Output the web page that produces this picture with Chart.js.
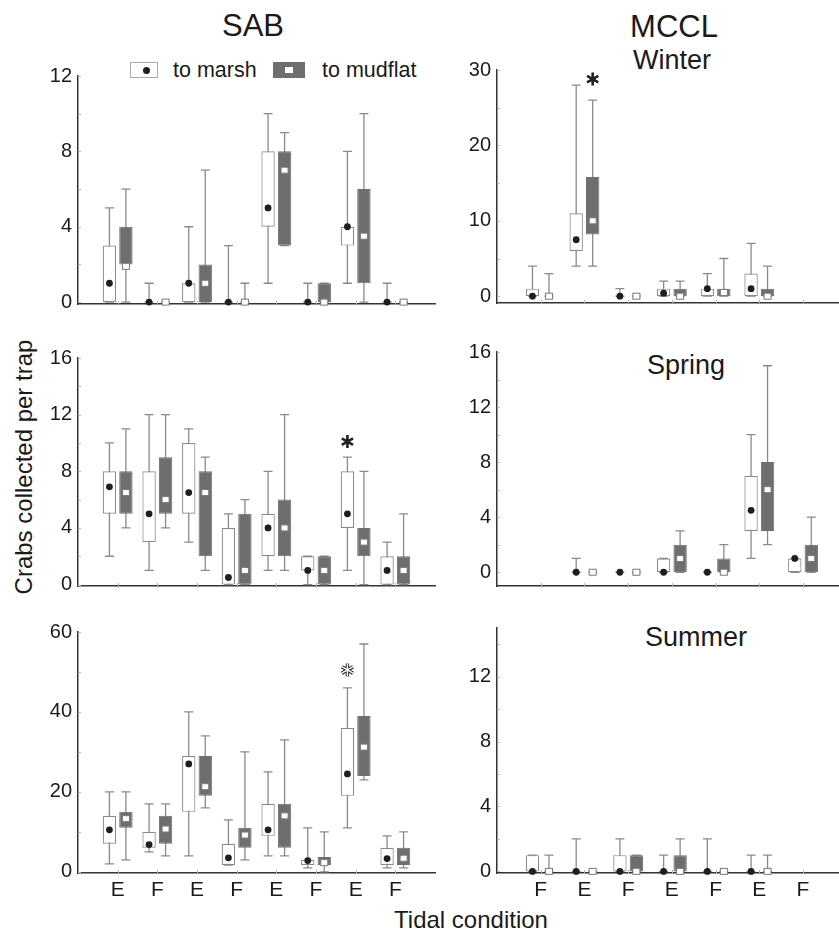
<!DOCTYPE html>
<html>
<head>
<meta charset="utf-8">
<script src="https://cdn.jsdelivr.net/npm/chart.js@4.4.1/dist/chart.umd.min.js"></script>
<style>
  body { margin: 0; width: 839px; height: 931px; position: relative; overflow: hidden; background: #fff;
         font-family: "Liberation Sans", Arial, sans-serif; color: #1a1a1a; }
  canvas { position: absolute; }
  .t { position: absolute; white-space: nowrap; line-height: 1; }
  .c { transform: translateX(-50%); }
  .key { position: absolute; box-sizing: border-box; }
</style>
</head>
<body>

<div class="t c" style="left:253px;top:10px;font-size:31px">SAB</div>
<div class="t c" style="left:674px;top:11px;font-size:31px">MCCL</div>
<div class="t c" style="left:672px;top:47px;font-size:27px">Winter</div>
<div class="t c" style="left:686px;top:352px;font-size:27px">Spring</div>
<div class="t c" style="left:696px;top:624px;font-size:27px">Summer</div>
<div class="t c" style="left:471px;top:908px;font-size:24px">Tidal condition</div>
<div class="t" style="left:24px;top:467px;font-size:24px;transform:translate(-50%,-50%) rotate(-90deg)">Crabs collected per trap</div>

<!-- legend -->
<div class="key" style="left:130px;top:62px;width:28px;height:16px;border:1px solid #aaa;background:#fff"></div>
<div class="key" style="left:143px;top:67px;width:7px;height:7px;border-radius:50%;background:#1e1e1e"></div>
<div class="t" style="left:173px;top:60px;font-size:21.5px">to marsh</div>
<div class="key" style="left:273px;top:62px;width:32px;height:16px;background:#6e6e6e"></div>
<div class="key" style="left:285px;top:67px;width:8px;height:6px;background:#fff"></div>
<div class="t" style="left:322px;top:60px;font-size:21.5px">to mudflat</div>

<script>
// ── Data ──
// tidal condition per category (E = ebb, F = flood)
const sabCats  = ['E', 'F', 'E', 'F', 'E', 'F', 'E', 'F'];
const mcclCats = ['F', 'E', 'F', 'E', 'F', 'E', 'F'];

// each entry: [whisker low, box low, box high, whisker high, centre]; null = no data
const sabWinterMarsh = [[0,0,3,5,1],[0,0,0,1,0],[0,0,1,4,1],[0,0,0,3,0],[1,4,8,10,5],[0,0,0,1,0],[1,3,4,8,4],[0,0,0,1,0]];
const sabWinterMud   = [[0,2,4,6,1.9],[0,0,0,0,0],[0,0,2,7,1],[0,0,0,1,0],[3,3,8,9,7],[0,0,1,1,0],[0,1,6,10,3.5],[0,0,0,0,0]];

const sabSpringMarsh = [[2,5,8,10,6.9],[1,3,8,12,5],[3,5,10,11,6.5],[0,0,4,5,0.5],[1,2,5,8,4],[0,1,2,2,1],[1,4,8,9,5],[0,0,2,3,1]];
const sabSpringMud   = [[4,5,8,11,6.5],[4,5,9,12,6],[1,2,8,9,6.5],[0,0,5,6,1],[1,2,6,12,4],[0,0,2,2,1],[0,2,4,8,3],[0,0,2,5,1]];

const sabSummerMarsh = [[2,7,14,20,10.5],[5,6,10,17,6.8],[4,15,29,40,27],[1.7,1.7,7,13,3.5],[4,9,17,25,10.5],[1,1.7,3,11,2.8],[11,19,36,46,24.5],[1,1.7,6,9,3.3]];
const sabSummerMud   = [[3,11,15,20,13.3],[4,7,14,17,10.7],[16,19,29,34,21.3],[3,6,11,30,9.2],[4,6,17,33,14],[0,1.7,3.7,10,2.3],[23,24,39,57,31.2],[1,1.7,6,10,3.4]];

const mcclWinterMarsh = [[0,0,1,4,0],[4,6,11,28,7.5],[0,0,0,1,0],[0,0,1,2,0.4],[0,0,1,3,1],[0,0,3,7,1],null];
const mcclWinterMud   = [[0,0,0,3,0],[4,8.2,15.8,26,10],[0,0,0,0,0],[0,0,1,2,0],[0,0,1,5,0.5],[0,0,1,4,0],null];

const mcclSpringMarsh = [null,[0,0,0,1,0],[0,0,0,0,0],[0,0,1,1,0],[0,0,0,0,0],[1,3,7,10,4.5],[0,0,1,1,1]];
const mcclSpringMud   = [null,[0,0,0,0,0],[0,0,0,0,0],[0,0,2,3,1],[0,0,1,2,0],[2,3,8,15,6],[0,0,2,4,1]];

const mcclSummerMarsh = [[0,0,1,1,0],[0,0,0,2,0],[0,0,1,2,0],[0,0,0,1,0],[0,0,0,2,0],[0,0,0,1,0],null];
const mcclSummerMud   = [[0,0,0,1,0],[0,0,0,0,0],[0,0,1,1,0],[0,0,1,2,0],[0,0,0,0,0],[0,0,0,1,0],null];

// y-axis tick labels and unlabelled minor ticks
const ticks12 = [0, 4, 8, 12],      minor12 = [2, 6, 10];
const ticks16 = [0, 4, 8, 12, 16],  minor16 = [2, 6, 10, 14];
const ticks30 = [0, 10, 20, 30],    minor30 = [5, 15, 25];
const ticks60 = [0, 20, 40, 60],    minor60 = [10, 30, 50];
const ticks15 = [0, 4, 8, 12],      minor15 = [2, 6, 10, 14];

// significance marks: [category, series (0 marsh / 1 mudflat), value, hollow]
const mcclWinterStars = [[1, 1, 28.8, false]];
const sabSpringStars  = [[6, 0, 10.1, false]];
const sabSummerStars  = [[6, 0, 50.5, true]];

// ── Panel layout (plot area in page pixels: left, top, right, bottom) ──
const panels = [
  { cats: sabCats,  marsh: sabWinterMarsh,  mud: sabWinterMud,  yTicks: ticks12, yMinor: minor12, yMin: -0.1, yMax: 12, xMax: 8,   showX: false, area: [78, 70, 435, 316],  stars: [] },
  { cats: mcclCats, marsh: mcclWinterMarsh, mud: mcclWinterMud, yTicks: ticks30, yMinor: minor30, yMin: -0.9, yMax: 30, xMax: 6.8, showX: false, area: [497, 64, 838, 315], stars: mcclWinterStars },
  { cats: sabCats,  marsh: sabSpringMarsh,  mud: sabSpringMud,  yTicks: ticks16, yMinor: minor16, yMin: -0.1, yMax: 16, xMax: 8,   showX: false, area: [78, 352, 435, 598], stars: sabSpringStars },
  { cats: mcclCats, marsh: mcclSpringMarsh, mud: mcclSpringMud, yTicks: ticks16, yMinor: minor16, yMin: -1,   yMax: 16, xMax: 6.8, showX: false, area: [497, 346, 838, 598], stars: [] },
  { cats: sabCats,  marsh: sabSummerMarsh,  mud: sabSummerMud,  yTicks: ticks60, yMinor: minor60, yMin: -0.3, yMax: 60, xMax: 8,   showX: true,  area: [78, 626, 435, 873], stars: sabSummerStars },
  { cats: mcclCats, marsh: mcclSummerMarsh, mud: mcclSummerMud, yTicks: ticks15, yMinor: minor15, yMin: -0.1, yMax: 15, xMax: 6.8, showX: true,  area: [497, 622, 838, 873], stars: [] },
];

const FONT = '"Liberation Sans", Arial, sans-serif';
const WHISKER = '#8a8a8a';

// Star (asterisk) with six arms
function drawStar(ctx, x, y, hollow) {
  const r = 6.5;
  const arms = () => {
    ctx.beginPath();
    for (let k = 0; k < 3; k++) {
      const a = Math.PI / 2 + k * Math.PI / 3;
      ctx.moveTo(x - r * Math.cos(a), y - r * Math.sin(a));
      ctx.lineTo(x + r * Math.cos(a), y + r * Math.sin(a));
    }
    ctx.stroke();
  };
  ctx.lineCap = 'butt';
  ctx.strokeStyle = '#222';
  ctx.lineWidth = hollow ? 3.4 : 2.6;
  arms();
  if (hollow) { ctx.strokeStyle = '#fff'; ctx.lineWidth = 1.4; arms(); }
}

// ── Whiskers, centre markers, inner ticks and stars, drawn through the chart's scales ──
function boxPlugin(p) {
  const sets = [p.marsh, p.mud];
  return {
    id: 'boxPlot',
    beforeDatasetsDraw(chart) {
      const ctx = chart.ctx, ys = chart.scales.y;
      ctx.save();
      ctx.strokeStyle = WHISKER;
      ctx.lineWidth = 1.3;
      sets.forEach((rows, s) => {
        const meta = chart.getDatasetMeta(s);
        rows.forEach((b, i) => {
          if (!b) return;
          const x = meta.data[i].x;
          const lo = ys.getPixelForValue(b[0]), hi = ys.getPixelForValue(b[3]);
          ctx.beginPath();
          ctx.moveTo(x, lo); ctx.lineTo(x, hi);
          ctx.moveTo(x - 4.5, hi); ctx.lineTo(x + 4.5, hi);
          ctx.moveTo(x - 4.5, lo); ctx.lineTo(x + 4.5, lo);
          ctx.stroke();
        });
      });
      ctx.restore();
    },
    afterDatasetsDraw(chart) {
      const ctx = chart.ctx, ys = chart.scales.y, xs = chart.scales.x, area = chart.chartArea;
      ctx.save();
      // small inward tick marks
      ctx.strokeStyle = '#b5b5b5';
      ctx.lineWidth = 1;
      ctx.beginPath();
      p.yTicks.concat(p.yMinor).forEach(v => {
        const y = Math.round(ys.getPixelForValue(v)) + 0.5;
        ctx.moveTo(area.left, y); ctx.lineTo(area.left + 3, y);
      });
      p.cats.forEach((c, i) => {
        const x = Math.round(xs.getPixelForValue(i)) + 0.5;
        ctx.moveTo(x, area.bottom); ctx.lineTo(x, area.bottom - 3);
      });
      ctx.stroke();

      // centre markers
      sets.forEach((rows, s) => {
        const meta = chart.getDatasetMeta(s);
        rows.forEach((b, i) => {
          if (!b) return;
          const x = meta.data[i].x, y = ys.getPixelForValue(b[4]);
          if (s === 0) {
            ctx.fillStyle = '#1e1e1e';
            ctx.beginPath(); ctx.arc(x, y, 3.4, 0, Math.PI * 2); ctx.fill();
          } else {
            ctx.fillStyle = '#fff';
            ctx.strokeStyle = '#7a7a7a';
            ctx.lineWidth = 1;
            ctx.fillRect(x - 3.5, y - 3, 7, 6);
            ctx.strokeRect(x - 3.5, y - 3, 7, 6);
          }
        });
      });

      // significance stars
      p.stars.forEach(([i, s, v, hollow]) => {
        const x = chart.getDatasetMeta(s).data[i].x;
        drawStar(ctx, x, ys.getPixelForValue(v), hollow);
      });
      ctx.restore();
    }
  };
}

function makePanel(p) {
  const [left, top, right, bottom] = p.area;
  const padTop = 12, padRight = 1, axisW = 50, axisH = p.showX ? 34 : 6;
  const spacing = (right - left) / (p.xMax + 1);
  const canvas = document.createElement('canvas');
  canvas.width = right - left + axisW + padRight;
  canvas.height = bottom - top + padTop + axisH;
  canvas.style.left = (left - axisW) + 'px';
  canvas.style.top = (top - padTop) + 'px';
  document.body.appendChild(canvas);

  // box width ~13-14 px, pair offset ~±8 px from the category tick
  const catPct = 33 / spacing, barPct = 0.81;
  const boxes = rows => rows.map((b, i) => ({ x: i, y: b && b[1] !== b[2] ? [b[1], b[2]] : null }));

  new Chart(canvas, {
    type: 'bar',
    data: {
      datasets: [
        { label: 'to marsh', data: boxes(p.marsh), backgroundColor: '#fff', borderColor: '#8a8a8a',
          borderWidth: 1.2, borderSkipped: false, categoryPercentage: catPct, barPercentage: barPct },
        { label: 'to mudflat', data: boxes(p.mud), backgroundColor: '#6e6e6e', borderColor: '#6e6e6e',
          borderWidth: 1, borderSkipped: false, categoryPercentage: catPct, barPercentage: barPct }
      ]
    },
    options: {
      responsive: false,
      animation: false,
      devicePixelRatio: 1,
      events: [],
      layout: { padding: { top: padTop, right: padRight, left: 0, bottom: 0 } },
      plugins: { legend: { display: false }, tooltip: { enabled: false } },
      scales: {
        x: {
          type: 'linear', min: -1, max: p.xMax, offset: false,
          grid: { display: false, drawTicks: false },
          border: { color: '#333', width: 1.5 },
          afterBuildTicks: a => { a.ticks = p.cats.map((c, i) => ({ value: i })); },
          afterFit: a => { a.height = axisH; },
          ticks: { display: p.showX, autoSkip: false, maxRotation: 0, padding: 5, color: '#1a1a1a',
                   font: { size: 21, family: FONT }, callback: v => p.cats[v] }
        },
        y: {
          min: p.yMin, max: p.yMax,
          grid: { display: false, drawTicks: false },
          border: { color: '#333', width: 1.5 },
          afterBuildTicks: a => { a.ticks = p.yTicks.map(v => ({ value: v })); },
          afterFit: a => { a.width = axisW; },
          ticks: { padding: 6, color: '#1a1a1a', font: { size: 20, family: FONT }, callback: v => v }
        }
      }
    },
    plugins: [boxPlugin(p)]
  });
}

panels.forEach(makePanel);
</script>
</body>
</html>
